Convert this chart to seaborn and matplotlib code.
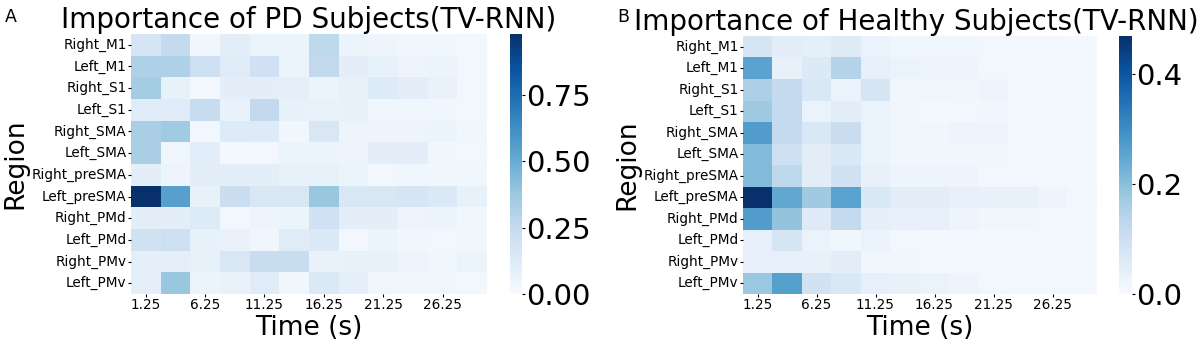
import numpy as np
import pandas as pd
import matplotlib
matplotlib.use("Agg")
import matplotlib.pyplot as plt
import seaborn as sns

regions = ["Right_M1", "Left_M1", "Right_S1", "Left_S1", "Right_SMA", "Left_SMA",
           "Right_preSMA", "Left_preSMA", "Right_PMd", "Left_PMd", "Right_PMv", "Left_PMv"]
times = [1.25, 3.75, 6.25, 8.75, 11.25, 13.75, 16.25, 18.75, 21.25, 23.75, 26.25, 28.75]

# PD subjects (panel A)
pd_right_m1 = [0.17, 0.25, 0.04, 0.10, 0.06, 0.06, 0.27, 0.06, 0.05, 0.04, 0.04, 0.03]
pd_left_m1 = [0.32, 0.32, 0.21, 0.12, 0.20, 0.06, 0.26, 0.10, 0.08, 0.05, 0.06, 0.03]
pd_right_s1 = [0.35, 0.08, 0.03, 0.10, 0.10, 0.09, 0.06, 0.08, 0.13, 0.10, 0.07, 0.03]
pd_left_s1 = [0.12, 0.12, 0.24, 0.07, 0.26, 0.08, 0.07, 0.08, 0.04, 0.04, 0.04, 0.03]
pd_right_sma = [0.33, 0.36, 0.03, 0.13, 0.13, 0.04, 0.15, 0.05, 0.05, 0.05, 0.06, 0.04]
pd_left_sma = [0.33, 0.04, 0.11, 0.02, 0.03, 0.06, 0.06, 0.05, 0.10, 0.10, 0.04, 0.03]
pd_right_presma = [0.10, 0.05, 0.10, 0.10, 0.10, 0.08, 0.08, 0.06, 0.03, 0.04, 0.04, 0.04]
pd_left_presma = [0.98, 0.55, 0.08, 0.22, 0.15, 0.15, 0.38, 0.15, 0.15, 0.17, 0.14, 0.08]
pd_right_pmd = [0.10, 0.10, 0.13, 0.03, 0.05, 0.06, 0.20, 0.10, 0.10, 0.05, 0.06, 0.04]
pd_left_pmd = [0.19, 0.21, 0.08, 0.07, 0.04, 0.12, 0.14, 0.03, 0.06, 0.04, 0.03, 0.04]
pd_right_pmv = [0.09, 0.09, 0.08, 0.15, 0.23, 0.23, 0.07, 0.08, 0.08, 0.05, 0.04, 0.06]
pd_left_pmv = [0.09, 0.38, 0.06, 0.07, 0.12, 0.04, 0.14, 0.09, 0.04, 0.04, 0.04, 0.03]

# Healthy subjects (panel B)
hc_right_m1 = [0.08, 0.05, 0.045, 0.06, 0.03, 0.02, 0.02, 0.02, 0.015, 0.015, 0.015, 0.01]
hc_left_m1 = [0.26, 0.035, 0.065, 0.145, 0.04, 0.03, 0.025, 0.025, 0.015, 0.015, 0.015, 0.01]
hc_right_s1 = [0.155, 0.12, 0.07, 0.03, 0.08, 0.02, 0.02, 0.02, 0.025, 0.015, 0.015, 0.01]
hc_left_s1 = [0.175, 0.12, 0.03, 0.05, 0.03, 0.02, 0.01, 0.015, 0.02, 0.015, 0.01, 0.01]
hc_right_sma = [0.27, 0.12, 0.07, 0.11, 0.03, 0.02, 0.02, 0.025, 0.025, 0.015, 0.01, 0.01]
hc_left_sma = [0.21, 0.10, 0.05, 0.07, 0.03, 0.02, 0.02, 0.02, 0.02, 0.015, 0.01, 0.01]
hc_right_presma = [0.21, 0.13, 0.05, 0.09, 0.035, 0.025, 0.025, 0.025, 0.015, 0.015, 0.01, 0.01]
hc_left_presma = [0.47, 0.25, 0.175, 0.26, 0.07, 0.05, 0.05, 0.04, 0.035, 0.035, 0.025, 0.015]
hc_right_pmd = [0.27, 0.19, 0.06, 0.12, 0.045, 0.04, 0.04, 0.025, 0.02, 0.02, 0.015, 0.01]
hc_left_pmd = [0.04, 0.08, 0.03, 0.02, 0.03, 0.015, 0.01, 0.01, 0.01, 0.01, 0.01, 0.01]
hc_right_pmv = [0.04, 0.04, 0.035, 0.05, 0.02, 0.02, 0.015, 0.01, 0.01, 0.01, 0.01, 0.01]
hc_left_pmv = [0.18, 0.265, 0.09, 0.07, 0.04, 0.035, 0.03, 0.025, 0.015, 0.01, 0.01, 0.01]

time_labels = [f"{t:.2f}" for t in times]

pd_df = pd.DataFrame(
    [pd_right_m1, pd_left_m1, pd_right_s1, pd_left_s1, pd_right_sma, pd_left_sma,
     pd_right_presma, pd_left_presma, pd_right_pmd, pd_left_pmd, pd_right_pmv, pd_left_pmv],
    index=regions, columns=time_labels)
hc_df = pd.DataFrame(
    [hc_right_m1, hc_left_m1, hc_right_s1, hc_left_s1, hc_right_sma, hc_left_sma,
     hc_right_presma, hc_left_presma, hc_right_pmd, hc_left_pmd, hc_right_pmv, hc_left_pmv],
    index=regions, columns=time_labels)

fig = plt.figure(figsize=(12, 3.46), dpi=100)

panels = [
    (pd_df, "Importance of PD Subjects(TV-RNN)", "A", 0.5,
     [0.109, 0.150, 0.297, 0.752], [0.425, 0.150, 0.010, 0.752], [0, 0.25, 0.5, 0.75], "{:.2f}"),
    (hc_df, "Importance of Healthy Subjects(TV-RNN)", "B", 0.49,
     [0.619, 0.150, 0.295, 0.746], [0.9325, 0.150, 0.011, 0.746], [0, 0.2, 0.4], "{:.1f}"),
]

for df, title, letter, tx, pos, cpos, cticks, cfmt in panels:
    ax = fig.add_axes(pos)
    cax = fig.add_axes(cpos)
    sns.heatmap(df, cmap="Blues", vmin=0, ax=ax, cbar_ax=cax,
                xticklabels=2, yticklabels=1)
    ax.set_title(title, fontsize=20, pad=4, x=tx)
    ax.set_xlabel("Time (s)", fontsize=19, labelpad=2)
    ax.set_ylabel("Region", fontsize=19, labelpad=2)
    ax.tick_params(axis="both", labelsize=9.8, length=2, pad=1)
    plt.setp(ax.get_xticklabels(), rotation=0)
    plt.setp(ax.get_yticklabels(), rotation=0)
    cax.set_yticks(cticks)
    cax.set_yticklabels([cfmt.format(v) for v in cticks])
    cax.tick_params(labelsize=21, length=2, pad=1)
    fig.text(pos[0] - 0.105, 0.95, letter, fontsize=12.5, ha="left", va="center")

plt.savefig("out.png", dpi=100)
